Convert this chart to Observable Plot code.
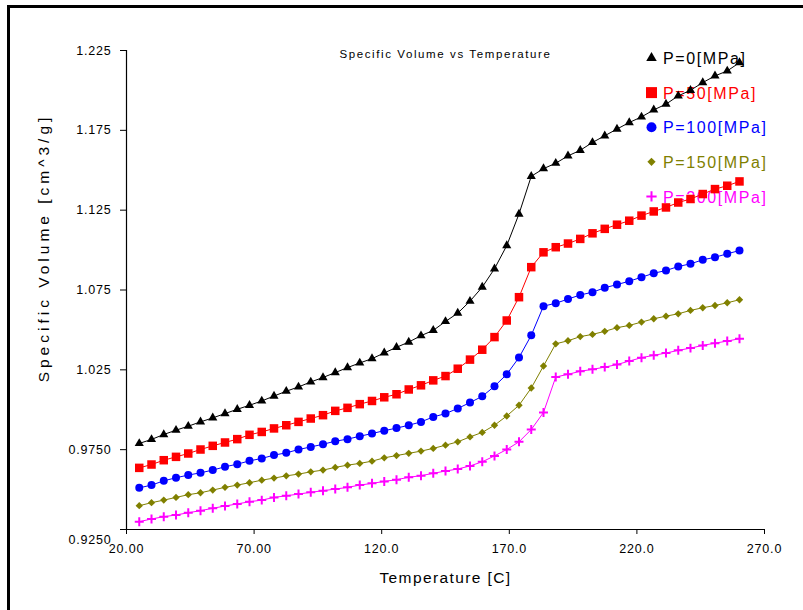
<!DOCTYPE html>
<html><head><meta charset="utf-8">
<script src="https://cdn.jsdelivr.net/npm/d3@7"></script>
<script src="https://cdn.jsdelivr.net/npm/@observablehq/plot@0.6"></script>
<style>
html,body{margin:0;padding:0;background:#fff;}
#wrap{position:relative;width:803px;height:610px;overflow:hidden;}
#border{position:absolute;left:7px;top:5px;width:820px;height:620px;border-top:3px solid #000;border-left:3px solid #000;pointer-events:none;}
svg text{font-family:"Liberation Sans",Arial,sans-serif;}
</style></head><body><div id="wrap"></div>
<script>
const temperature = [25.0, 29.8, 34.6, 39.4, 44.2, 49.0, 53.8, 58.6, 63.4, 68.2, 73.0, 77.8, 82.6, 87.4, 92.2, 97.0, 101.8, 106.6, 111.4, 116.2, 121.0, 125.8, 130.6, 135.4, 140.2, 145.0, 149.8, 154.6, 159.4, 164.2, 169.0, 173.8, 178.6, 183.4, 188.2, 193.0, 197.8, 202.6, 207.4, 212.2, 217.0, 221.8, 226.6, 231.4, 236.2, 241.0, 245.8, 250.6, 255.4, 260.2];
const volP0 = [0.9789, 0.9814, 0.9845, 0.9872, 0.9897, 0.9924, 0.9949, 0.9976, 1.0003, 1.0028, 1.0055, 1.0086, 1.0116, 1.0143, 1.0174, 1.0202, 1.0233, 1.0264, 1.0293, 1.0320, 1.0356, 1.0391, 1.0424, 1.0464, 1.0497, 1.0553, 1.0605, 1.0680, 1.0768, 1.0883, 1.1028, 1.1226, 1.1462, 1.1510, 1.1544, 1.1590, 1.1625, 1.1674, 1.1716, 1.1758, 1.1799, 1.1834, 1.1878, 1.1914, 1.1966, 1.2001, 1.2049, 1.2091, 1.2122, 1.2174];
const volP50 = [0.9636, 0.9657, 0.9684, 0.9705, 0.9726, 0.9751, 0.9774, 0.9795, 0.9816, 0.9843, 0.9861, 0.9883, 0.9903, 0.9924, 0.9945, 0.9966, 0.9993, 1.0012, 1.0035, 1.0055, 1.0078, 1.0097, 1.0127, 1.0153, 1.0184, 1.0211, 1.0257, 1.0314, 1.0376, 1.0455, 1.0559, 1.0705, 1.0893, 1.0986, 1.1018, 1.1041, 1.1070, 1.1105, 1.1133, 1.1159, 1.1184, 1.1216, 1.1242, 1.1267, 1.1298, 1.1320, 1.1351, 1.1382, 1.1403, 1.1430];
const volP100 = [0.9511, 0.9528, 0.9555, 0.9574, 0.9591, 0.9605, 0.9622, 0.9643, 0.9659, 0.9680, 0.9695, 0.9716, 0.9730, 0.9751, 0.9767, 0.9784, 0.9803, 0.9816, 0.9834, 0.9851, 0.9869, 0.9885, 0.9903, 0.9924, 0.9955, 0.9976, 1.0008, 1.0045, 1.0084, 1.0147, 1.0222, 1.0327, 1.0466, 1.0649, 1.0667, 1.0693, 1.0719, 1.0736, 1.0764, 1.0784, 1.0805, 1.0830, 1.0855, 1.0872, 1.0897, 1.0914, 1.0939, 1.0955, 1.0977, 1.0997];
const volP150 = [0.9399, 0.9418, 0.9434, 0.9451, 0.9468, 0.9480, 0.9497, 0.9514, 0.9528, 0.9543, 0.9559, 0.9572, 0.9586, 0.9597, 0.9611, 0.9622, 0.9639, 0.9653, 0.9664, 0.9678, 0.9699, 0.9713, 0.9727, 0.9741, 0.9758, 0.9778, 0.9799, 0.9830, 0.9858, 0.9903, 0.9961, 1.0028, 1.0136, 1.0274, 1.0413, 1.0432, 1.0458, 1.0472, 1.0491, 1.0514, 1.0528, 1.0549, 1.0570, 1.0586, 1.0601, 1.0622, 1.0639, 1.0653, 1.0670, 1.0689];
const volP200 = [0.9299, 0.9316, 0.9330, 0.9341, 0.9355, 0.9368, 0.9383, 0.9397, 0.9410, 0.9424, 0.9434, 0.9451, 0.9461, 0.9472, 0.9483, 0.9493, 0.9503, 0.9514, 0.9528, 0.9539, 0.9551, 0.9562, 0.9577, 0.9587, 0.9602, 0.9616, 0.9629, 0.9648, 0.9674, 0.9711, 0.9751, 0.9799, 0.9876, 0.9983, 1.0205, 1.0222, 1.0241, 1.0253, 1.0267, 1.0283, 1.0305, 1.0326, 1.0341, 1.0355, 1.0372, 1.0386, 1.0403, 1.0417, 1.0430, 1.0445];

const seriesNames = ["P=0[MPa]", "P=50[MPa]", "P=100[MPa]", "P=150[MPa]", "P=200[MPa]"];
const seriesValues = [volP0, volP50, volP100, volP150, volP200];
const seriesColors = ["#000000", "#ff0000", "#0000ff", "#808000", "#ff00ff"];
const seriesSymbols = ["triangle", "square", "circle", "diamond2", "plus"];
const seriesR = [3.4, 4.8, 4.0, 3.3, 3.0];
const legendR = [3.9, 6.2, 5.0, 3.7, 3.4];

const xTicks = [20, 70, 120, 170, 220, 270];
const xTickLabels = ["20.00", "70.00", "120.0", "170.0", "220.0", "270.0"];
const yTicks = [0.925, 0.975, 1.025, 1.075, 1.125, 1.175, 1.225];
const yTickLabels = ["0.9250", "0.9750", "1.025", "1.075", "1.125", "1.175", "1.225"];

const titleText = "Specific Volume vs Temperature";
const xLabel = "Temperature [C]";
const yLabel = "Specific Volume [cm^3/g]";

const rows = [];
seriesNames.forEach((name, s) => {
  temperature.forEach((t, i) => rows.push({T: t, V: seriesValues[s][i], s}));
});

const marks = [];
// legend (drawn first so the data overlaps it)
seriesNames.forEach((name, s) => {
  const isPlus = seriesSymbols[s] === "plus";
  marks.push(Plot.dot([name], {frameAnchor: "top-right", dx: -113, dy: 7.5 + 34.6 * s,
    symbol: seriesSymbols[s], r: legendR[s],
    fill: isPlus ? "none" : seriesColors[s], stroke: isPlus ? seriesColors[s] : "none", strokeWidth: 2}));
  marks.push(Plot.text([name], {frameAnchor: "top-right", dx: -101.5, dy: 8.5 + 34.6 * s, text: d => d,
    textAnchor: "start", lineAnchor: "middle", fill: seriesColors[s], fontSize: 16}));
});
// title
marks.push(Plot.text([titleText], {frameAnchor: "top", dy: 3.5, text: d => d, textAnchor: "middle", lineAnchor: "middle", fontSize: 11.5}));
// axis lines
marks.push(Plot.ruleX([20], {stroke: "#000", strokeWidth: 1.2}));
marks.push(Plot.ruleY([0.925], {stroke: "#000", strokeWidth: 1.2}));
// axes
marks.push(Plot.axisX({ticks: xTicks, tickSize: 5, tickPadding: 10, tickFormat: d => xTickLabels[xTicks.indexOf(d)], label: null, fontSize: 12.5}));
marks.push(Plot.axisY({ticks: yTicks, tickSize: 6, tickPadding: 9, tickFormat: d => (d === 0.925 ? "" : yTickLabels[yTicks.indexOf(d)]), label: null, fontSize: 12.5}));
marks.push(Plot.text([yTicks[0]], {y: d => d, frameAnchor: "left", dx: -15, dy: 10, text: d => yTickLabels[0], textAnchor: "end", lineAnchor: "middle", fontSize: 12.5}));
// axis titles
marks.push(Plot.text([xLabel], {frameAnchor: "bottom", dy: 49, text: d => d, textAnchor: "middle", lineAnchor: "middle", fontSize: 15.5}));
marks.push(Plot.text([yLabel], {frameAnchor: "left", dx: -82, dy: -42, rotate: -90, text: d => d, textAnchor: "middle", lineAnchor: "middle", fontSize: 15.5}));
// data
seriesNames.forEach((name, s) => {
  const data = rows.filter(r => r.s === s);
  const isPlus = seriesSymbols[s] === "plus";
  marks.push(Plot.line(data, {x: "T", y: "V", stroke: seriesColors[s], strokeWidth: 1}));
  marks.push(Plot.dot(data, {x: "T", y: "V", symbol: seriesSymbols[s], r: seriesR[s],
    fill: isPlus ? "none" : seriesColors[s], stroke: isPlus ? seriesColors[s] : "none", strokeWidth: 2}));
});

const chart = Plot.plot({
  width: 803, height: 610,
  marginLeft: 126, marginRight: 39, marginTop: 50, marginBottom: 81,
  x: {domain: [20, 270], axis: null},
  y: {domain: [0.925, 1.225], axis: null},
  style: {fontFamily: "'Liberation Sans', Arial, sans-serif", background: "#fff", color: "#000"},
  marks
});
const wrap = document.getElementById("wrap");
wrap.appendChild(chart);
const border = document.createElement("div");
border.id = "border";
wrap.appendChild(border);

// letter spacing by text content
const spacing = new Map();
seriesNames.forEach(n => spacing.set(n, "1.6px"));
xTickLabels.forEach(n => spacing.set(n, "0.8px"));
yTickLabels.forEach(n => spacing.set(n, "0.8px"));
spacing.set(titleText, "1.6px");
spacing.set(xLabel, "1.4px");
spacing.set(yLabel, "4px");
d3.select(chart).selectAll("text").each(function() {
  const t = this.textContent;
  if (spacing.has(t)) this.style.letterSpacing = spacing.get(t);
});
</script>
</body></html>
